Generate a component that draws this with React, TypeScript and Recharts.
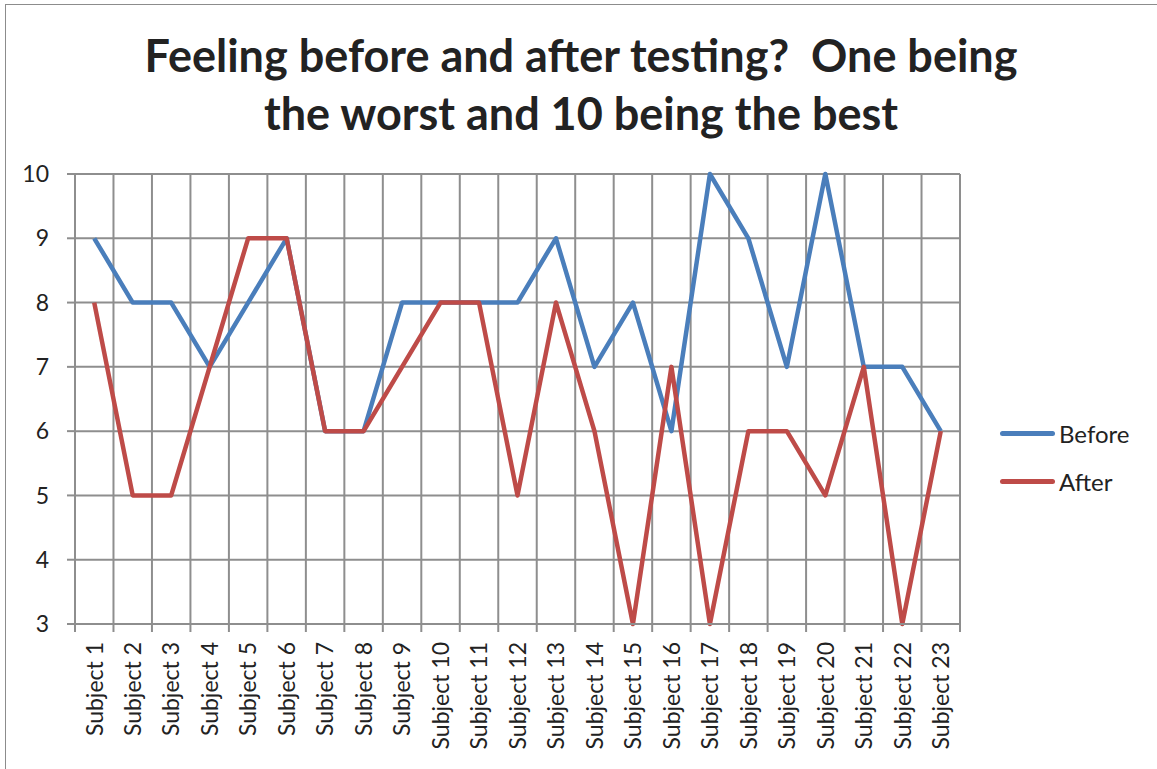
import { LineChart, Line, XAxis, YAxis, CartesianGrid } from 'recharts';

const subjects = [
  'Subject 1', 'Subject 2', 'Subject 3', 'Subject 4', 'Subject 5', 'Subject 6',
  'Subject 7', 'Subject 8', 'Subject 9', 'Subject 10', 'Subject 11', 'Subject 12',
  'Subject 13', 'Subject 14', 'Subject 15', 'Subject 16', 'Subject 17', 'Subject 18',
  'Subject 19', 'Subject 20', 'Subject 21', 'Subject 22', 'Subject 23',
];
const before = [9, 8, 8, 7, 8, 9, 6, 6, 8, 8, 8, 8, 9, 7, 8, 6, 10, 9, 7, 10, 7, 7, 6];
const after = [8, 5, 5, 7, 9, 9, 6, 6, 7, 8, 8, 5, 8, 6, 3, 7, 3, 6, 6, 5, 7, 3, 6];
const yTicks = [3, 4, 5, 6, 7, 8, 9, 10];

const BLUE = '#4a7ebb';
const RED = '#be4b48';
const GRID = '#8e8e8e';
const FONT = 'Lato, "Open Sans", sans-serif';

const W = 1157;
const H = 769;
const PLOT_LEFT = 75;
const PLOT_RIGHT = 960;
const BAND = (PLOT_RIGHT - PLOT_LEFT) / subjects.length;

const data = subjects.map((s, i) => ({ name: s, before: before[i], after: after[i] }));

function SubjectTick(props: any) {
  const { x, y, payload, index } = props;
  const top = y - 18;
  return (
    <g>
      <line x1={x - BAND / 2} x2={x - BAND / 2} y1={top} y2={top + 8} stroke={GRID} strokeWidth={2} />
      {index === subjects.length - 1 && (
        <line x1={x + BAND / 2} x2={x + BAND / 2} y1={top} y2={top + 8} stroke={GRID} strokeWidth={2} />
      )}
      <text
        x={x}
        y={y}
        transform={`rotate(-90, ${x}, ${y})`}
        textAnchor="end"
        dy="0.36em"
        fill="#222"
        fontSize={23}
        fontFamily={FONT}
      >
        {payload.value}
      </text>
    </g>
  );
}

export default function App() {
  return (
    <div style={{ position: 'fixed', left: 0, top: 0, width: W, height: H, overflow: 'hidden', background: '#fff' }}>
      <div
        style={{
          position: 'absolute', left: 5, top: 4, width: W + 40, height: H + 40,
          border: '1.5px solid #8c8c8c', boxSizing: 'border-box',
        }}
      />
      <div
        style={{
          position: 'absolute', left: 0, top: 26, width: 1162, textAlign: 'center',
          fontFamily: FONT, fontWeight: 700, fontSize: 45, lineHeight: '58px', color: '#222',
        }}
      >
        Feeling before and after testing?&nbsp; One being
        <br />
        the worst and 10 being the best
      </div>

      <div style={{ position: 'absolute', left: 0, top: 0 }}>
        <LineChart
          width={W}
          height={H}
          data={data}
          margin={{ top: 174, right: W - PLOT_RIGHT, bottom: 0, left: 0 }}
        >
          <CartesianGrid
            stroke={GRID}
            strokeWidth={2}
            verticalCoordinatesGenerator={({ offset }: any) =>
              Array.from({ length: subjects.length + 1 }, (_, i) => offset.left + (i * offset.width) / subjects.length)
            }
          />
          <XAxis
            dataKey="name"
            interval={0}
            height={H - 624}
            padding={{ left: BAND / 2, right: BAND / 2 }}
            tickSize={8}
            tickMargin={10}
            tickLine={false}
            axisLine={{ stroke: GRID, strokeWidth: 2 }}
            tick={<SubjectTick />}
          />
          <YAxis
            domain={[3, 10]}
            ticks={yTicks}
            width={PLOT_LEFT}
            tickSize={8}
            tickMargin={18}
            tickLine={{ stroke: GRID, strokeWidth: 2 }}
            axisLine={{ stroke: GRID, strokeWidth: 2 }}
            tick={{ fill: '#222', fontSize: 23, fontFamily: FONT }}
          />
          <Line
            dataKey="before"
            stroke={BLUE}
            strokeWidth={4.5}
            strokeLinejoin="round"
            dot={false}
            isAnimationActive={false}
          />
          <Line
            dataKey="after"
            stroke={RED}
            strokeWidth={4.5}
            strokeLinejoin="round"
            dot={false}
            isAnimationActive={false}
          />
        </LineChart>
      </div>

      {/* Legend */}
      <div style={{ position: 'absolute', left: 1000, top: 0, fontFamily: FONT, fontSize: 24, color: '#222' }}>
        {[
          { label: 'Before', color: BLUE, y: 433 },
          { label: 'After', color: RED, y: 481 },
        ].map(item => (
          <div
            key={item.label}
            style={{ position: 'absolute', left: 0, top: item.y - 15, height: 30, display: 'flex', alignItems: 'center', whiteSpace: 'nowrap' }}
          >
            <span style={{ display: 'inline-block', width: 55, height: 5, borderRadius: 3, background: item.color, marginRight: 4 }} />
            {item.label}
          </div>
        ))}
      </div>
    </div>
  );
}
